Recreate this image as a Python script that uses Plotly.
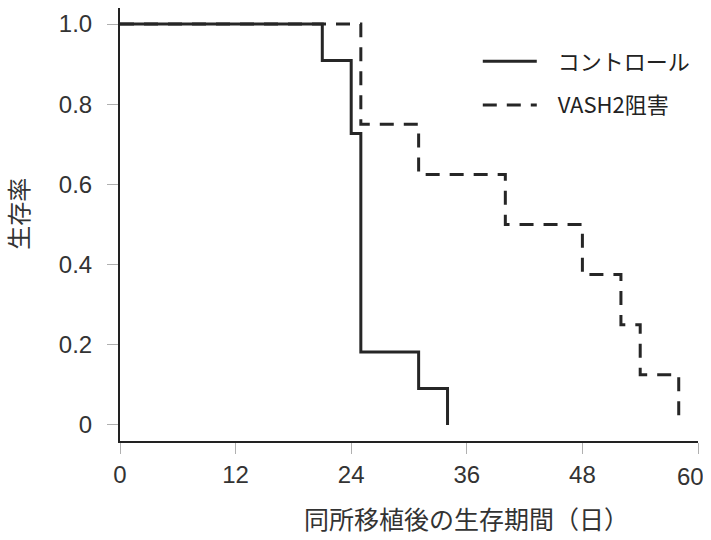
import plotly.graph_objects as go

# Data (Kaplan-Meier steps)
control_days = [0, 21, 24, 25, 31, 34]
control_surv = [1.0, 0.909, 0.727, 0.182, 0.091, 0.0]
vash2_days = [0, 25, 31, 40, 48, 52, 54, 58]
vash2_surv = [1.0, 0.75, 0.625, 0.5, 0.375, 0.25, 0.125, 0.0]

x_ticks = [0, 12, 24, 36, 48, 60]
x_ticktext = ["0", "12", "24", "36", "48", ""]  # last label placed as annotation to avoid edge clipping
x_last_label = "60"
y_ticks = [0, 0.2, 0.4, 0.6, 0.8, 1.0]
y_ticktext = ["0", "0.2", "0.4", "0.6", "0.8", "1.0"]

FONT = "Liberation Sans, Noto Sans CJK JP, sans-serif"
CJK = "Noto Sans CJK JP, sans-serif"

fig = go.Figure()
fig.add_trace(go.Scatter(
    x=control_days, y=control_surv, mode="lines", line_shape="hv",
    name="\u2002 コントロール", legendgroup="a",
    line=dict(color="#262626", width=3)))
fig.add_trace(go.Scatter(
    x=vash2_days, y=vash2_surv, mode="lines", line_shape="hv",
    name="\u2002 VASH2阻害", legendgroup="b",
    line=dict(color="#262626", width=3, dash="14px,10px")))

fig.update_layout(
    width=703, height=540,
    margin=dict(l=120, r=5, t=8, b=99),
    paper_bgcolor="white", plot_bgcolor="white",
    font=dict(family=FONT, size=24, color="#333333"),
    showlegend=True,
    legend=dict(x=0.619, y=0.925, xanchor="left", yanchor="top",
                font=dict(family=CJK, size=22, color="#222222"),
                itemwidth=54, tracegroupgap=12, traceorder="grouped",
                bgcolor="rgba(0,0,0,0)"),
    xaxis=dict(range=[0, 60], tickvals=x_ticks, ticktext=x_ticktext,
               showgrid=False, zeroline=False,
               showline=True, linecolor="#222222", linewidth=2,
               ticks="outside", ticklen=11, tickcolor="#b0b0b0", tickwidth=1,
               ticklabelstandoff=0,
               tickfont=dict(size=24, color="#333333")),
    yaxis=dict(range=[-0.04, 1.04], tickvals=y_ticks, ticktext=y_ticktext,
               showgrid=False, zeroline=False,
               showline=True, linecolor="#222222", linewidth=2,
               ticks="outside", ticklen=11, tickcolor="#b0b0b0", tickwidth=1,
               ticklabelstandoff=10,
               tickfont=dict(size=24, color="#333333")),
)

fig.add_annotation(text=x_last_label, xref="x", yref="paper",
                   x=x_ticks[-1], y=-0.081, xanchor="center", yanchor="middle",
                   xshift=-8, showarrow=False,
                   font=dict(family=FONT, size=24, color="#333333"))
fig.add_annotation(text="生存率", xref="paper", yref="paper",
                   x=-0.1765, y=0.525, xanchor="center", yanchor="middle",
                   textangle=-90, showarrow=False,
                   font=dict(family=CJK, size=24, color="#333333"))
fig.add_annotation(text="同所移植後の生存期間（日）", xref="paper", yref="paper",
                   x=0.599, y=-0.178, xanchor="center", yanchor="middle",
                   showarrow=False, font=dict(family=CJK, size=25, color="#333333"))

fig.write_html(
    "out.html",
    config={"displayModeBar": False},
    post_script="document.body.style.margin='0';"
                "document.documentElement.style.overflow='hidden';",
)
